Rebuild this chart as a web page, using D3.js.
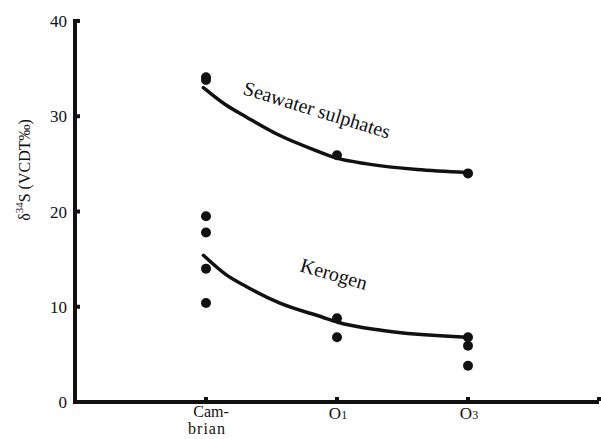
<html>
  <head>
    <script src="https://d3js.org/d3.v7.min.js"></script>
    <meta charset="UTF-8" />
    <style>
      body { margin: 0; background: #fff; }
      text { font-family: "Liberation Serif", "DejaVu Serif", serif; fill: #111; }
    </style>
  </head>
  <body>
    <div id="chart"></div>
    <script>
      // period positions on the x axis
      var periods = ["Cambrian", "O1", "O3"]
      var periodPos = [1, 2, 3]

      // measured samples (period index, d34S)
      var sulphateSamples = [[1, 34.1], [1, 33.8], [2, 25.9], [3, 24.0]]
      var kerogenSamples = [[1, 19.5], [1, 17.8], [1, 14.0], [1, 10.4],
                            [2, 8.8], [2, 6.8],
                            [3, 6.8], [3, 5.9], [3, 3.8]]

      // hand drawn trend lines
      var sulphateCurve = [[0.98, 33.0], [1.15, 31.2], [1.31, 29.9], [1.56, 28.0], [1.82, 26.5],
                           [2.0, 25.6], [2.23, 25.0], [2.61, 24.4], [2.99, 24.1]]
      var kerogenCurve = [[0.98, 15.4], [1.15, 13.4], [1.31, 12.1], [1.56, 10.4], [1.89, 8.9],
                          [2.0, 8.4], [2.35, 7.5], [2.99, 6.8]]

      var yTicks = [0, 10, 20, 30, 40]

      var width = 601, height = 439

      var svg = d3.select("#chart").append("svg")
        .attr("width", width)
        .attr("height", height)

      var x = d3.scaleLinear().domain([0, 4]).range([75, 599])
      var y = d3.scaleLinear().domain([0, 40]).range([402, 21])

      // axes
      svg.append("line")
        .attr("x1", x(0)).attr("x2", x(0))
        .attr("y1", y(40) - 2).attr("y2", y(0) + 2)
        .attr("stroke", "#111").attr("stroke-width", 4)
      svg.append("line")
        .attr("x1", x(0) - 2).attr("x2", x(4))
        .attr("y1", y(0)).attr("y2", y(0))
        .attr("stroke", "#111").attr("stroke-width", 4)

      svg.selectAll(".ytick")
        .data(yTicks.filter(function(d) { return d > 0 }))
        .enter().append("rect")
        .attr("x", x(0) + 1)
        .attr("y", function(d) { return y(d) - 2 })
        .attr("width", 4).attr("height", 4)
        .attr("fill", "#111")

      svg.selectAll(".ylab")
        .data(yTicks)
        .enter().append("text")
        .attr("x", 67)
        .attr("y", function(d) { return y(d) + 6 })
        .attr("text-anchor", "end")
        .style("font-size", "17px")
        .text(function(d) { return d })

      svg.selectAll(".xtick")
        .data(periodPos.concat([4]))
        .enter().append("rect")
        .attr("x", function(d) { return x(d) - 2 })
        .attr("y", y(0) - 5)
        .attr("width", 4).attr("height", 4)
        .attr("fill", "#111")

      // x labels
      var cam = svg.append("text")
        .attr("x", x(1)).attr("y", 417)
        .attr("text-anchor", "middle")
        .style("font-size", "16px")
      cam.append("tspan").attr("x", x(1) + 5).text("Cam-")
      cam.append("tspan").attr("x", x(1) + 1).attr("dy", 17)
        .style("letter-spacing", "1px").text("brian")

      periods.slice(1).forEach(function(p, i) {
        var t = svg.append("text")
          .attr("x", x(periodPos[i + 1]) + 1).attr("y", 419)
          .attr("text-anchor", "middle")
          .style("font-size", "17px")
        t.append("tspan").text(p[0])
        t.append("tspan").style("font-size", "12px").text(p.slice(1))
      })

      // y label
      var yl = svg.append("text")
        .attr("transform", "translate(30,170) rotate(-90)")
        .attr("text-anchor", "middle")
        .style("font-size", "16px")
      yl.append("tspan").text("δ")
      yl.append("tspan").attr("dy", -7).style("font-size", "11px").text("34")
      yl.append("tspan").attr("dy", 7).text("S (VCDT‰)")

      // trend lines
      var line = d3.line()
        .x(function(d) { return x(d[0]) })
        .y(function(d) { return y(d[1]) })
        .curve(d3.curveMonotoneX)

      ;[sulphateCurve, kerogenCurve].forEach(function(c) {
        svg.append("path")
          .attr("d", line(c))
          .attr("fill", "none")
          .attr("stroke", "#111")
          .attr("stroke-width", 3.5)
          .attr("stroke-linecap", "round")
      })

      svg.selectAll(".pt")
        .data(sulphateSamples.concat(kerogenSamples))
        .enter().append("circle")
        .attr("cx", function(d) { return x(d[0]) })
        .attr("cy", function(d) { return y(d[1]) })
        .attr("r", 5)
        .attr("fill", "#111")

      // curve labels
      svg.append("text")
        .attr("transform", "translate(242,94) rotate(17)")
        .style("font-size", "20px")
        .text("Seawater sulphates")
      svg.append("text")
        .attr("transform", "translate(299,271) rotate(16)")
        .style("font-size", "20px")
        .text("Kerogen")
    </script>
  </body>
</html>
